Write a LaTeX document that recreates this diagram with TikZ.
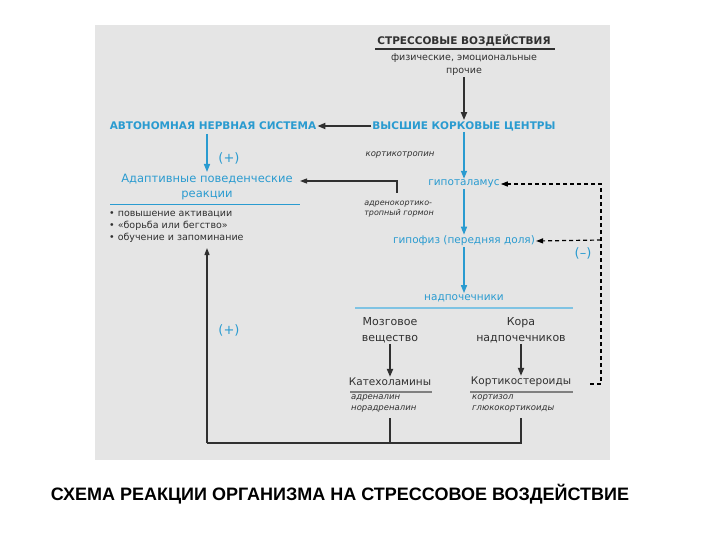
\documentclass[tikz,border=0pt]{standalone}
\usepackage{fontspec}
\setmainfont{DejaVu Sans}
\newfontfamily\capfont{Liberation Sans}
\usetikzlibrary{arrows.meta}
\definecolor{bg}{HTML}{E5E5E5}
\definecolor{bl}{HTML}{2A9BD0}
\definecolor{dk}{HTML}{303030}
\tikzset{
 txt/.style={font=\fontsize{10}{12}\selectfont, text=dk, inner sep=1pt, align=center},
 btxt/.style={font=\fontsize{10.5}{12}\selectfont, text=bl, inner sep=1pt, align=center},
 head/.style={font=\bfseries\fontsize{10.5}{12}\selectfont, inner sep=1pt},
 ital/.style={font=\itshape\fontsize{8.5}{11}\selectfont, text=dk, inner sep=1pt, align=left},
 barr/.style={draw=bl, line width=1.5pt, -{Triangle[length=8pt,width=6pt]}},
 karr/.style={draw=dk, line width=1.8pt, -{Triangle[length=8pt,width=6pt]}},
 thin/.style={draw=dk, line width=1.2pt},
 tarr/.style={draw=dk, line width=1.2pt, -{Triangle[length=7pt,width=5pt]}},
 darr/.style={draw=black, line width=1.2pt, dash pattern=on 4pt off 3pt, -{Triangle[length=7pt,width=5pt]}},
}
\begin{document}
\begin{tikzpicture}[x=1pt,y=-1pt]
\useasboundingbox (0,0) rectangle (720,540);
\fill[white] (0,0) rectangle (720,540);
\fill[bg] (95,25) rectangle (610,460);
% nodes
\node[head,text=dk] (st) at (464,40) {СТРЕССОВЫЕ ВОЗДЕЙСТВИЯ};
\draw[dk,line width=1.5pt] (375,49) -- (555,49);
\node[txt,font=\fontsize{9.5}{13}\selectfont] (phys) at (464,65) {физические, эмоциональные\\прочие};
\node[head,text=bl] (vkc) at (464,126) {ВЫСШИЕ КОРКОВЫЕ ЦЕНТРЫ};
\node[head,text=bl] (ans) at (213,126) {АВТОНОМНАЯ НЕРВНАЯ СИСТЕМА};
\node[btxt,font=\fontsize{13}{14}\selectfont] (p1) at (229,158) {(+)};
\node[btxt,font=\fontsize{11.5}{15}\selectfont] (adapt) at (207,187) {Адаптивные поведенческие\\реакции};
\draw[bl,line width=1pt] (110,205) -- (300,205);
\node[txt,align=left,anchor=west,font=\fontsize{9.5}{12}\selectfont] (bul) at (108,227) {• повышение активации\\• «борьба или бегство»\\• обучение и запоминание};
\node[ital] (kt) at (400,155) {кортикотропин};
\node[ital,font=\itshape\fontsize{8}{10.5}\selectfont] (akg) at (399,209) {адренокортико-\\тропный гормон};
\node[btxt] (hyp) at (464,184) {гипоталамус};
\node[btxt] (hpf) at (464,241) {гипофиз (передняя доля)};
\node[btxt,font=\fontsize{13}{14}\selectfont] (m1) at (583,253) {(–)};
\node[btxt] (nad) at (464,298) {надпочечники};
\draw[bl!60,line width=1.3pt] (355,308) -- (573,308);
\node[txt,font=\fontsize{11}{16}\selectfont] (moz) at (390,330) {Мозговое\\вещество};
\node[txt,font=\fontsize{11}{16}\selectfont] (kora) at (521,330) {Кора\\надпочечников};
\node[txt,font=\fontsize{10.5}{12}\selectfont] (kat) at (390,382) {Катехоламины};
\draw[gray,line width=1.5pt] (350,392) -- (432,392);
\node[txt,font=\fontsize{10.5}{12}\selectfont] (kst) at (521,382) {Кортикостероиды};
\draw[gray,line width=1.5pt] (470,392) -- (573,392);
\node[ital,anchor=north west] (adr) at (350,394) {адреналин\\норадреналин};
\node[ital,anchor=north west] (kor) at (471,394) {кортизол\\глюкокортикоиды};
\node[btxt,font=\fontsize{13}{14}\selectfont] (p2) at (229,330) {(+)};
\node[font=\capfont\bfseries\fontsize{18}{20}\selectfont,text=black] (cap) at (340,494) {СХЕМА РЕАКЦИИ ОРГАНИЗМА НА СТРЕССОВОЕ ВОЗДЕЙСТВИЕ};
% connectors
\draw[karr] (phys.south) -- (vkc.north);
\draw[karr] (vkc.west) -- (ans.east);
\draw[barr] (207,134) -- (207,172);
\draw[barr] (vkc.south) -- (hyp.north);
\draw[barr] (hyp.south) -- (hpf.north);
\draw[barr] (hpf.south) -- (nad.north);
\draw[karr] (moz.south) -- (kat.north);
\draw[karr] (kora.south) -- (kst.north);
\coordinate (c1) at (397,193);
\draw[tarr] (c1) -- (397,181) -- (300,181);
\coordinate (d0) at (590,384);
\draw[darr] (d0) -- (601,384) -- (601,184) -- (hyp.east);
\draw[darr] (601,240) -- (hpf.east);
\coordinate (j) at (207,443);
\draw[thin] (390,418) -- (390,443);
\draw[thin] (521,418) -- (521,443) -- (j);
\draw[tarr] (j) -- (207,248);
\end{tikzpicture}
\end{document}
